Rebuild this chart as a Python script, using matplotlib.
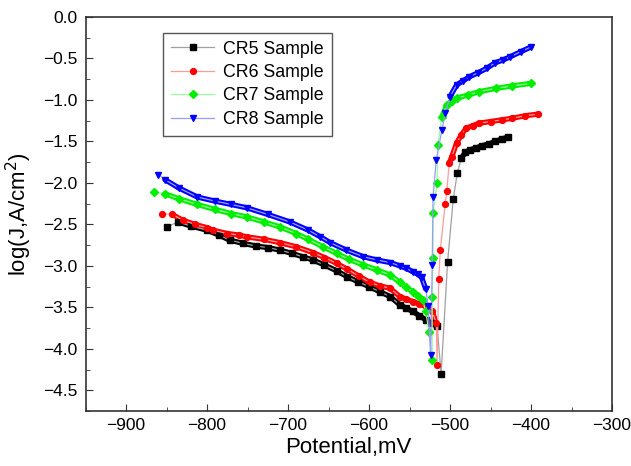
import matplotlib
matplotlib.use("Agg")
from matplotlib import pyplot as plt
from matplotlib.ticker import MultipleLocator
from matplotlib.collections import LineCollection

plt.rcParams['font.family'] = ['Liberation Sans', 'DejaVu Sans']

# Potential (mV) and log current density
cr5_v = [-849, -836, -820, -800, -785, -772, -755, -740, -725, -710, -695, -682, -669, -655,
         -640, -627, -614, -600, -587, -574, -562, -554, -546, -538, -530, -523, -516, -511,
         -503, -496, -491, -486, -481, -475, -468, -460, -452, -444, -436, -429]
cr5_j = [-2.53, -2.47, -2.52, -2.57, -2.63, -2.69, -2.73, -2.76, -2.78, -2.81, -2.85, -2.89, -2.93, -2.99,
         -3.06, -3.13, -3.19, -3.25, -3.31, -3.37, -3.47, -3.51, -3.55, -3.60, -3.65, -3.69, -3.73, -4.30,
         -2.95, -2.19, -1.88, -1.70, -1.63, -1.60, -1.58, -1.55, -1.53, -1.50, -1.47, -1.45]

cr6_v = [-856, -843, -830, -815, -800, -793, -775, -760, -751, -730, -710, -690, -669, -655,
         -640, -627, -613, -599, -587, -574, -562, -554, -546, -538, -530, -522, -517, -516,
         -514, -512, -506, -504, -501, -498, -492, -486, -480, -472, -464, -450, -436, -423, -407, -391]
cr6_j = [-2.37, -2.38, -2.45, -2.50, -2.54, -2.57, -2.61, -2.63, -2.65, -2.68, -2.72, -2.77, -2.84, -2.90,
         -2.97, -3.04, -3.12, -3.20, -3.24, -3.27, -3.37, -3.40, -3.43, -3.46, -3.49, -3.55, -3.69, -4.19,
         -3.16, -2.81, -2.25, -2.10, -1.76, -1.69, -1.52, -1.42, -1.34, -1.31, -1.28, -1.26, -1.24, -1.22, -1.19, -1.17]

cr7_v = [-865, -852, -835, -812, -790, -770, -751, -730, -710, -690, -675, -657, -640, -625,
         -607, -590, -574, -562, -554, -546, -540, -534, -530, -526, -522, -522, -521, -521,
         -516, -515, -510, -504, -498, -492, -478, -464, -443, -423, -400]
cr7_j = [-2.11, -2.13, -2.19, -2.26, -2.32, -2.37, -2.41, -2.47, -2.53, -2.61, -2.68, -2.77, -2.85, -2.92,
         -2.99, -3.05, -3.11, -3.20, -3.26, -3.31, -3.36, -3.41, -3.55, -3.80, -4.13, -3.37, -2.90, -2.36,
         -2.00, -1.54, -1.20, -1.06, -1.01, -0.98, -0.94, -0.90, -0.86, -0.83, -0.80]

cr8_v = [-860, -852, -835, -812, -790, -770, -751, -725, -698, -675, -660, -648, -628, -607,
         -590, -574, -562, -554, -546, -540, -535, -530, -527, -524, -522, -521, -517, -510,
         -506, -500, -492, -484, -476, -465, -455, -444, -435, -426, -413, -400]
cr8_j = [-1.90, -1.96, -2.06, -2.17, -2.22, -2.26, -2.30, -2.38, -2.47, -2.57, -2.65, -2.72, -2.81, -2.89,
         -2.93, -2.96, -3.00, -3.03, -3.07, -3.10, -3.14, -3.28, -3.49, -4.08, -2.99, -2.17, -1.72, -1.36,
         -1.16, -0.96, -0.82, -0.77, -0.72, -0.67, -0.62, -0.55, -0.52, -0.48, -0.42, -0.36]

fig = plt.figure(figsize=(6.31, 4.66), dpi=100)
ax = fig.add_axes([0.1355, 0.118, 0.8345, 0.8455])

series = [
    (cr5_v, cr5_j, 'CR5 Sample', 's', 'black', '#a0a0a0'),
    (cr6_v, cr6_j, 'CR6 Sample', 'o', 'red', '#ff9a9a'),
    (cr7_v, cr7_j, 'CR7 Sample', 'D', '#00ee00', '#99ff99'),
    (cr8_v, cr8_j, 'CR8 Sample', 'v', 'blue', '#9a9aff'),
]
for v, j, name, mk, c, lc in series:
    # the measured curves are so densely sampled that flat stretches look like a solid band
    segs = []
    for i in range(1, len(v) - 1):
        dv = abs(v[i + 1] - v[i])
        if dv > 0 and abs(j[i + 1] - j[i]) / dv < 0.03:
            segs.append([(v[i], j[i]), (v[i + 1], j[i + 1])])
    ax.add_collection(LineCollection(segs, colors=c, linewidths=3.8, capstyle='round', zorder=2))
    ax.plot(v, j, color=lc, lw=0.9, marker=mk, ms=4.2 if mk != 'D' else 3.6,
            mfc=c, mec=c, label=name, zorder=3)

ax.set_xlim(-950, -300)
ax.set_ylim(-4.75, 0.0)
ax.xaxis.set_major_locator(MultipleLocator(100))
ax.xaxis.set_minor_locator(MultipleLocator(50))
ax.yaxis.set_major_locator(MultipleLocator(0.5))
ax.yaxis.set_minor_locator(MultipleLocator(0.25))
ax.tick_params(which='both', direction='in', labelsize=12.5, color='#333333')
ax.tick_params(which='major', length=5)
ax.tick_params(which='minor', length=3)
ax.tick_params(axis='y', pad=6)
ax.tick_params(axis='x', pad=5)
for s in ax.spines.values():
    s.set_linewidth(1.2)
    s.set_color('#333333')

ax.set_xlabel('Potential,mV', fontsize=16, labelpad=3)
ax.set_ylabel('log(J,A/cm$^2$)', fontsize=16, labelpad=6)

leg = ax.legend(loc='upper left', bbox_to_anchor=(0.131, 0.983), fontsize=12.8,
                numpoints=1, handlelength=2.4, handletextpad=0.5, borderpad=0.45,
                labelspacing=0.36, fancybox=False, edgecolor='#555555', framealpha=1)
leg.get_frame().set_linewidth(1.0)

fig.savefig('out.png', dpi=100)
